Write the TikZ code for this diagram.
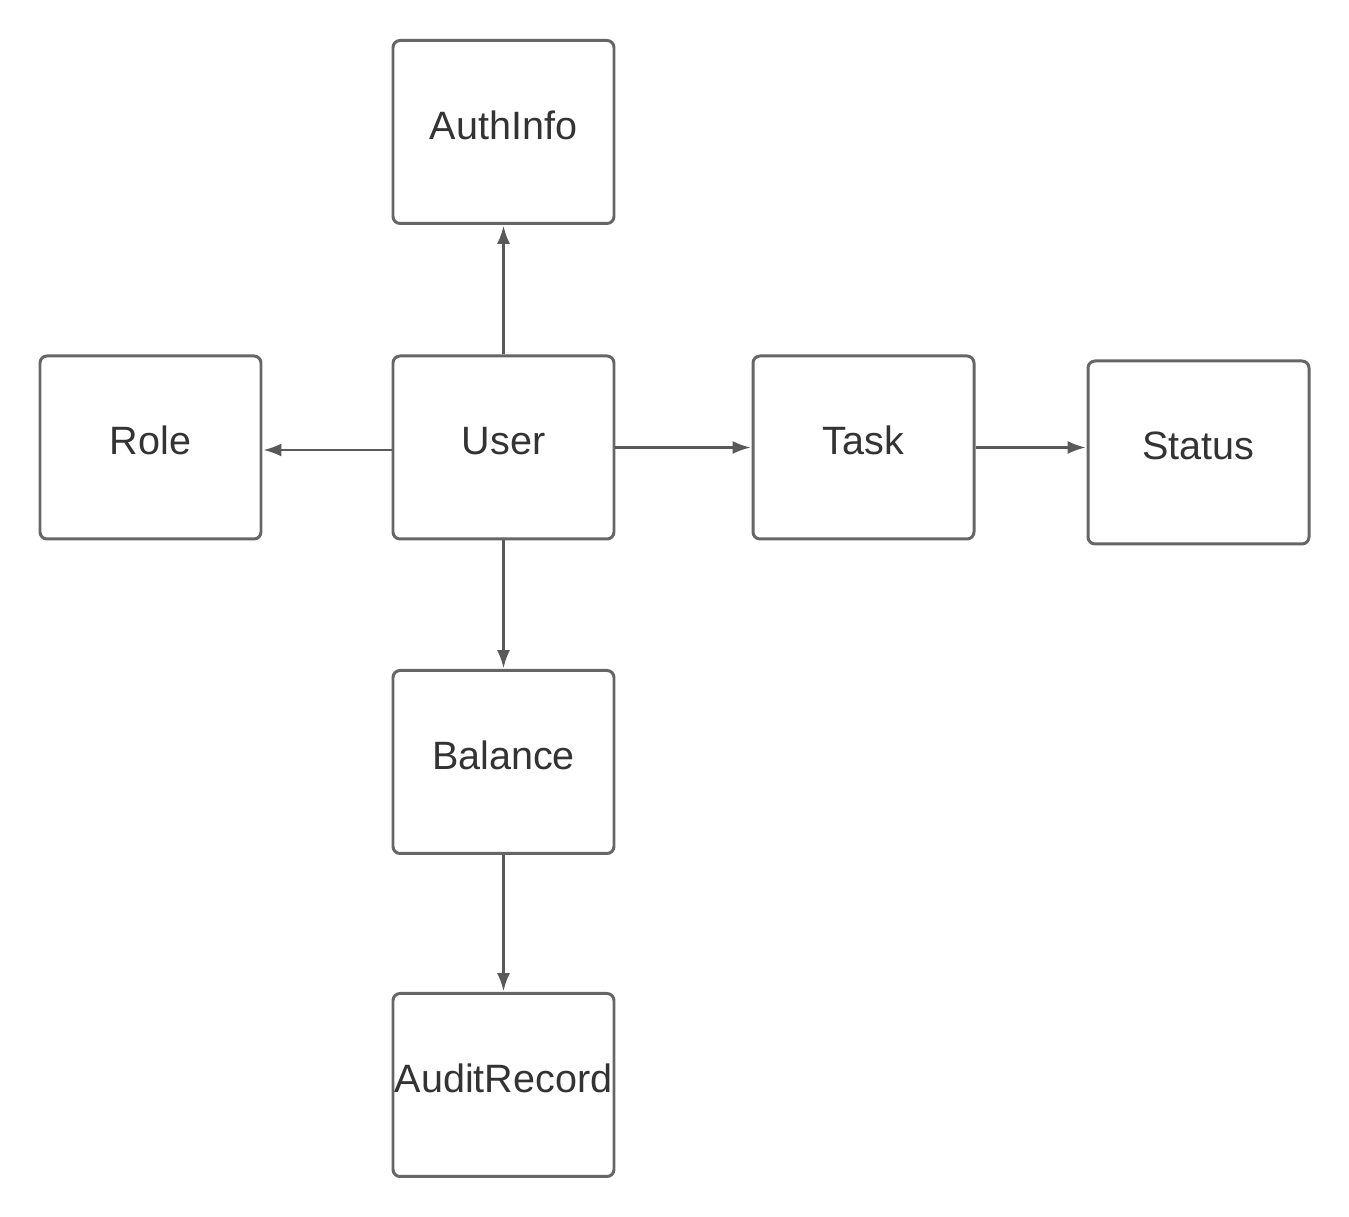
\documentclass[tikz,border=0pt]{standalone}
\usepackage{fontspec}
\setmainfont{Liberation Sans}
\usepackage{tikz}
\usetikzlibrary{arrows.meta}
\definecolor{boxgray}{RGB}{102, 102, 102}
\definecolor{linegray}{RGB}{89, 89, 89}
\definecolor{textdark}{RGB}{51, 51, 51}
\tikzset{
    entity/.style={draw=boxgray, line width=1.7pt, rounded corners=4pt,
        minimum width=4.42cm, minimum height=3.66cm, inner sep=0pt,
        text height=0.6cm, text depth=0.3cm, text=textdark,
        font=\fontsize{22.5}{27}\selectfont},
    link/.style={draw=linegray, line width=1.25pt,
        -{Latex[length=0.36cm, width=0.26cm]}, shorten >=0.5pt}
}
\begin{document}
\begin{tikzpicture}
            \useasboundingbox (0,0) rectangle (26.98,24.34);
            \node[entity] (authinfo) at (10.07,21.70) {AuthInfo};
            \node[entity] (role) at (3.01,15.39) {Role};
            \node[entity] (user) at (10.07,15.39) {User};
            \node[entity] (task) at (17.27,15.39) {Task};
            \node[entity] (status) at (23.97,15.29) {Status};
            \node[entity] (balance) at (10.07,9.10) {Balance};
            \node[entity] (auditrecord) at (10.07,2.64) {AuditRecord};
            
            \draw[link] (user.north) -- (authinfo.south);
            \draw[link] ([yshift=-0.05cm]user.west) -- ([yshift=-0.05cm]role.east);
            \draw[link] (user.east) -- (task.west);
            \draw[link] (task.east) -- (task.east -| status.west);
            \draw[link] (user.south) -- (balance.north);
            \draw[link] (balance.south) -- (auditrecord.north);
        \end{tikzpicture}
\end{document}
